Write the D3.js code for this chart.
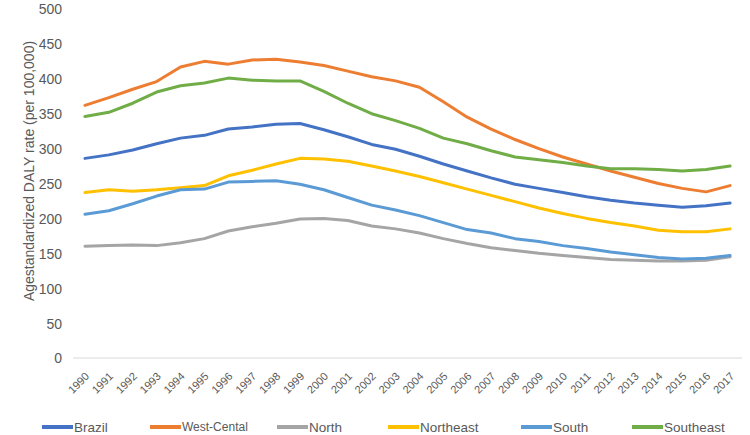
<!DOCTYPE html>
<html><head><meta charset="utf-8">
<script src="https://cdn.jsdelivr.net/npm/d3@7"></script>
<style>body{margin:0;background:#fff}svg{display:block}text{font-family:"Liberation Sans",Arial,sans-serif}</style>
</head><body><svg id="c" width="750" height="435"></svg>
<script>
const years = [1990,1991,1992,1993,1994,1995,1996,1997,1998,1999,2000,2001,2002,2003,2004,2005,2006,2007,2008,2009,2010,2011,2012,2013,2014,2015,2016,2017];
const yTicks = [0,50,100,150,200,250,300,350,400,450,500];
const seriesNames = ["Brazil","West-Cental","North","Northeast","South","Southeast"];
const seriesColors = ["#4472C4","#ED7D31","#A5A5A5","#FFC000","#5B9BD5","#70AD47"];
const brazil    = [286,291,298,307,315,319,328,331,335,336,327,317,306,299,289,278,268,258,249,243,237,231,226,222,219,216,218,222];
const westCental= [362,373,385,396,417,425,421,427,428,424,419,411,403,397,388,367,345,328,313,300,288,278,268,259,250,243,238,247];
const north     = [160,161,162,161,165,171,182,188,193,199,200,197,189,185,179,171,164,158,154,150,147,144,141,140,139,139,140,145];
const northeast = [237,241,239,241,244,247,261,269,278,286,285,282,275,268,260,251,242,233,224,215,207,200,194,189,183,181,181,185];
const south     = [206,211,221,232,241,242,252,253,254,249,241,230,219,212,204,194,184,179,171,167,161,157,152,148,144,142,143,147];
const southeast = [346,352,365,381,390,394,401,398,397,397,382,365,350,340,329,315,307,297,288,284,280,275,271,271,270,268,270,275];
const seriesValues = [brazil,westCental,north,northeast,south,southeast];

const svg = d3.select("#c");
const x = d3.scaleBand().domain(years).range([73,742]);
const y = d3.scaleLinear().domain([0,500]).range([358,9]);
const cx = d => x(d) + x.bandwidth()/2;

// baseline
svg.append("line").attr("x1",73).attr("x2",742).attr("y1",y(0)).attr("y2",y(0)).attr("stroke","#d9d9d9").attr("stroke-width",1);

// y ticks
const yAxis = d3.axisLeft(y).tickValues(yTicks).tickSize(0).tickPadding(0);
const gy = svg.append("g").attr("transform","translate(62,0)").call(yAxis);
gy.select(".domain").remove();
gy.selectAll("text").attr("fill","#595959").style("font-size","14px").attr("dy","0.35em");

// x ticks
const xAxis = d3.axisBottom(x).tickSize(0).tickPadding(0);
const gx = svg.append("g").attr("transform","translate(0,"+y(0)+")").call(xAxis);
gx.select(".domain").remove();
gx.selectAll("text").attr("fill","#595959").style("font-size","11px")
  .attr("text-anchor","end").attr("dy",null).attr("y",null)
  .attr("transform","translate(5,19) rotate(-45)");

// y title
svg.append("text").attr("transform","translate(34,171) rotate(-90)").attr("text-anchor","middle")
  .attr("fill","#595959").style("font-size","14px").text("Agestandardized DALY rate (per 100,000)");

// lines
const line = d3.line().x((d,i)=>cx(years[i])).y(d=>y(d));
seriesValues.forEach((vals,k)=>{
  svg.append("path").datum(vals).attr("d",line).attr("fill","none")
    .attr("stroke",seriesColors[k]).attr("stroke-width",3).attr("stroke-linejoin","round").attr("stroke-linecap","round");
});

// legend
const legX = [42,150,277,388,521,632];
const legY = 427;
seriesNames.forEach((n,k)=>{
  const g = svg.append("g").attr("transform","translate("+legX[k]+","+legY+")");
  g.append("line").attr("x1",0).attr("x2",31).attr("y1",0).attr("y2",0).attr("stroke",seriesColors[k]).attr("stroke-width",4);
  g.append("text").attr("x",32).attr("y",0).attr("dy","0.35em").attr("fill","#595959")
    .style("font-size", k===1 ? "12px" : "13.5px").text(n);
});
</script></body></html>
